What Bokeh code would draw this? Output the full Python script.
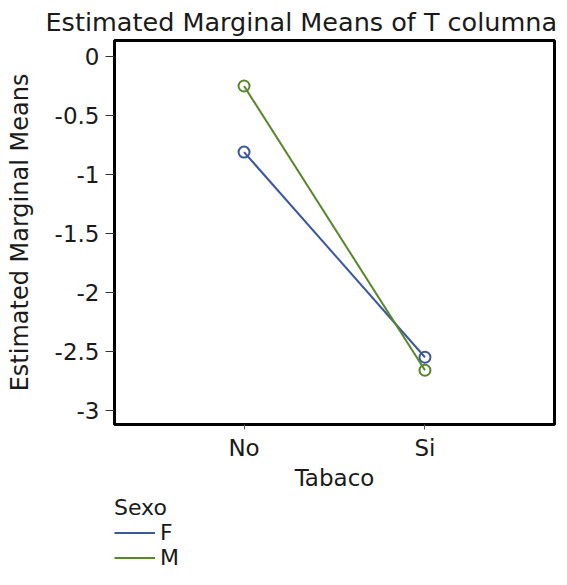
from bokeh.plotting import figure
from bokeh.layouts import column
from bokeh.models import FactorRange, Range1d, FixedTicker, Legend, LegendItem, Title
from bokeh.embed import file_html
from bokeh.resources import INLINE

# ---- data ----
tabaco = ["No", "Si"]
sexo = ["F", "M"]
means_F = [-0.81, -2.55]
means_M = [-0.25, -2.66]
y_ticks = [0, -0.5, -1, -1.5, -2, -2.5, -3]
y_tick_labels = ["0", "-0.5", "-1", "-1.5", "-2", "-2.5", "-3"]
title_text = "Estimated Marginal Means of T columna"
x_title = "Tabaco"
y_title = "Estimated Marginal Means"
legend_title = "Sexo"
colors = {"F": "#3b5898", "M": "#58862b"}
series = {"F": means_F, "M": means_M}

FONT = "DejaVu Sans"
TXT = "#1a1a1a"

p = figure(
    width=556, height=495,
    x_range=FactorRange(*tabaco, range_padding=0.216, range_padding_units="absolute"),
    y_range=Range1d(-3.12, 0.136),
    output_backend="svg", toolbar_location=None,
    min_border_left=114, min_border_right=2, min_border_top=40, min_border_bottom=71,
    title=None,
)
p.add_layout(Title(text=title_text, align="left", offset=-69, text_font=FONT,
                   text_font_size="25.5px", text_font_style="normal", text_color=TXT,
                   standoff=8), "above")

p.outline_line_color = "black"
p.outline_line_width = 3
p.xgrid.grid_line_color = None
p.ygrid.grid_line_color = None
p.background_fill_color = "white"
p.border_fill_color = "white"

# y axis
p.yaxis.ticker = FixedTicker(ticks=y_ticks)
p.yaxis.major_label_overrides = {t: l for t, l in zip(y_ticks, y_tick_labels)}
p.yaxis.axis_line_color = None
p.yaxis.major_tick_out = 9
p.yaxis.major_tick_in = 0
p.yaxis.major_tick_line_color = "#333333"
p.yaxis.minor_tick_line_color = None
p.yaxis.major_label_standoff = 6
p.yaxis.major_label_text_font = FONT
p.yaxis.major_label_text_font_size = "23px"
p.yaxis.major_label_text_color = TXT
p.yaxis.axis_label = y_title
p.yaxis.axis_label_text_font = FONT
p.yaxis.axis_label_text_font_size = "24px"
p.yaxis.axis_label_text_font_style = "normal"
p.yaxis.axis_label_text_color = TXT
p.yaxis.axis_label_standoff = 18

# x axis
p.xaxis.axis_line_color = None
p.xaxis.major_tick_out = 5
p.xaxis.major_tick_in = 0
p.xaxis.major_tick_line_color = "#555555"
p.xaxis.major_label_standoff = 5
p.xaxis.major_label_text_font = FONT
p.xaxis.major_label_text_font_size = "23px"
p.xaxis.major_label_text_color = TXT
p.xaxis.axis_label = x_title
p.xaxis.axis_label_text_font = FONT
p.xaxis.axis_label_text_font_size = "23px"
p.xaxis.axis_label_text_font_style = "normal"
p.xaxis.axis_label_text_color = TXT
p.xaxis.axis_label_standoff = 1

for s in sexo:
    p.line(x=tabaco, y=series[s], line_color=colors[s], line_width=2)
    p.scatter(x=tabaco, y=series[s], marker="circle", size=11, fill_color=None,
              line_color=colors[s], line_width=2)

# ---- legend panel below the chart ----
lg = figure(
    width=556, height=74,
    x_range=FactorRange(*tabaco), y_range=Range1d(100, 101),
    output_backend="svg", toolbar_location=None,
    min_border_left=114, min_border_right=2, min_border_top=0, min_border_bottom=0,
    x_axis_type=None, y_axis_type=None, title=None,
)
lg.outline_line_color = None
lg.xgrid.grid_line_color = None
lg.ygrid.grid_line_color = None
lg.background_fill_color = "white"
lg.border_fill_color = "white"

items = []
for s in sexo:
    r = lg.line(x=tabaco, y=series[s], line_color=colors[s], line_width=2)
    items.append(LegendItem(label=s, renderers=[r]))

legend = Legend(items=items, title=legend_title, location="top_left",
                orientation="vertical", border_line_color=None,
                background_fill_alpha=0, padding=0, margin=0, spacing=0,
                glyph_width=41, glyph_height=25, label_height=25,
                label_standoff=5, title_standoff=0,
                label_text_font=FONT, label_text_font_size="22px", label_text_color=TXT,
                title_text_font=FONT, title_text_font_size="22px",
                title_text_font_style="normal", title_text_color=TXT)
lg.add_layout(legend, "center")

layout = column(p, lg, spacing=0)
open("out.html", "w").write(file_html(layout, INLINE))
